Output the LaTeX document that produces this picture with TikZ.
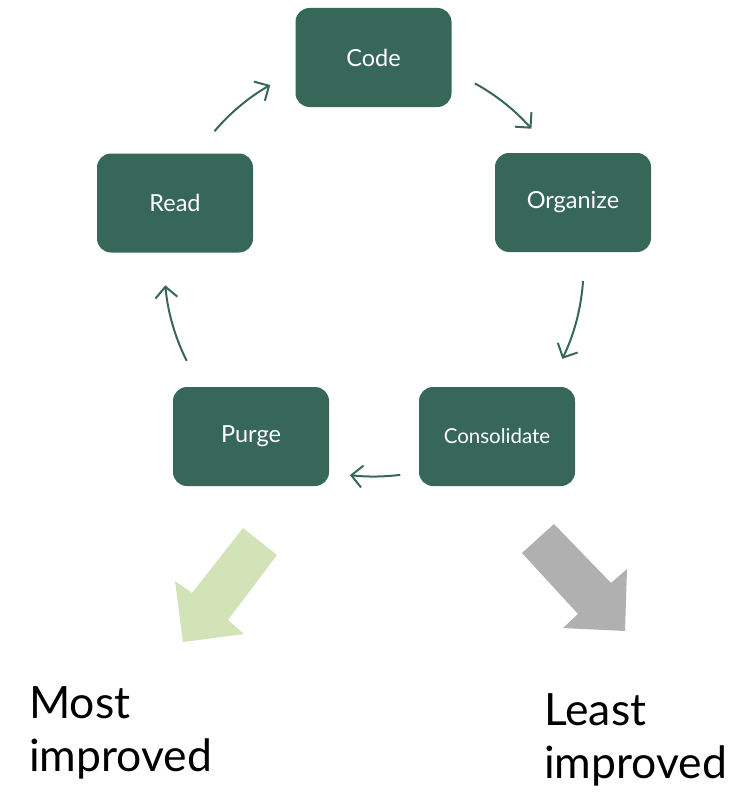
\documentclass[tikz,border=0pt]{standalone}
\usepackage{fontspec}
\setmainfont{Lato}
\usetikzlibrary{arrows.meta}
\definecolor{boxgreen}{RGB}{55,103,88}
\definecolor{mostgreen}{RGB}{211,227,184}
\definecolor{leastgray}{RGB}{176,176,176}
\tikzset{
  stage/.style={draw=none, fill=boxgreen, rounded corners=14pt,
    minimum width=156pt, minimum height=99pt, text=white,
    font=\fontsize{23.5}{28}\selectfont},
  cyc/.style={draw=boxgreen, line width=2pt,
    -{Straight Barb[length=11pt,width=22pt,line width=2pt]}},
  verdict/.style={anchor=north west, align=left, inner sep=0pt,
    font=\fontsize{44.5}{53}\selectfont}
}
\begin{document}
\begin{tikzpicture}[x=1pt, y=-1pt]
  \useasboundingbox (0,0) rectangle (749,792);

  % the five stages of the cycle
  \node[stage] (code) at (373.5,57.5) {Code};
  \node[stage] (organize) at (573,202.5) {Organize};
  \node[stage] (consolidate) at (497,436.5) {\fontsize{20.5}{24}\selectfont Consolidate};
  \node[stage] (purge) at (251,436.5) {Purge};
  \node[stage] (read) at (175,203) {Read};

  % arcs between the stages, on a circle round the cycle centre
  \coordinate (ctr) at (374,267);
  \coordinate (s1) at ([shift={(-61.2:209.5)}]ctr);
  \coordinate (s2) at ([shift={(3.8:209.5)}]ctr);
  \coordinate (s3) at ([shift={(82.8:209.5)}]ctr);
  \coordinate (s4) at ([shift={(153.4:209.5)}]ctr);
  \coordinate (s5) at ([shift={(-139.6:209.5)}]ctr);
  \draw[cyc] (s1) arc[start angle=-61.2, end angle=-41.3, radius=209.5];
  \draw[cyc] (s2) arc[start angle=3.8, end angle=26, radius=209.5];
  \draw[cyc] (s3) arc[start angle=82.8, end angle=96.6, radius=209.5];
  \draw[cyc] (s4) arc[start angle=153.4, end angle=175, radius=209.5];
  \draw[cyc] (s5) arc[start angle=-139.6, end angle=-119.7, radius=209.5];

  % block arrows below the cycle
  \fill[mostgreen] (243,528) -- (277,555) -- (228,620) -- (244,634)
    -- (183,642) -- (175,581) -- (192,593) -- cycle;
  \fill[leastgray] (554,524) -- (522,553) -- (578,614) -- (563,628)
    -- (625,631) -- (627,569) -- (611,583) -- cycle;

  \node[verdict] (most) at (29,686) {Most\\improved};
  \node[verdict] (least) at (544,693) {Least\\improved};
\end{tikzpicture}
\end{document}
